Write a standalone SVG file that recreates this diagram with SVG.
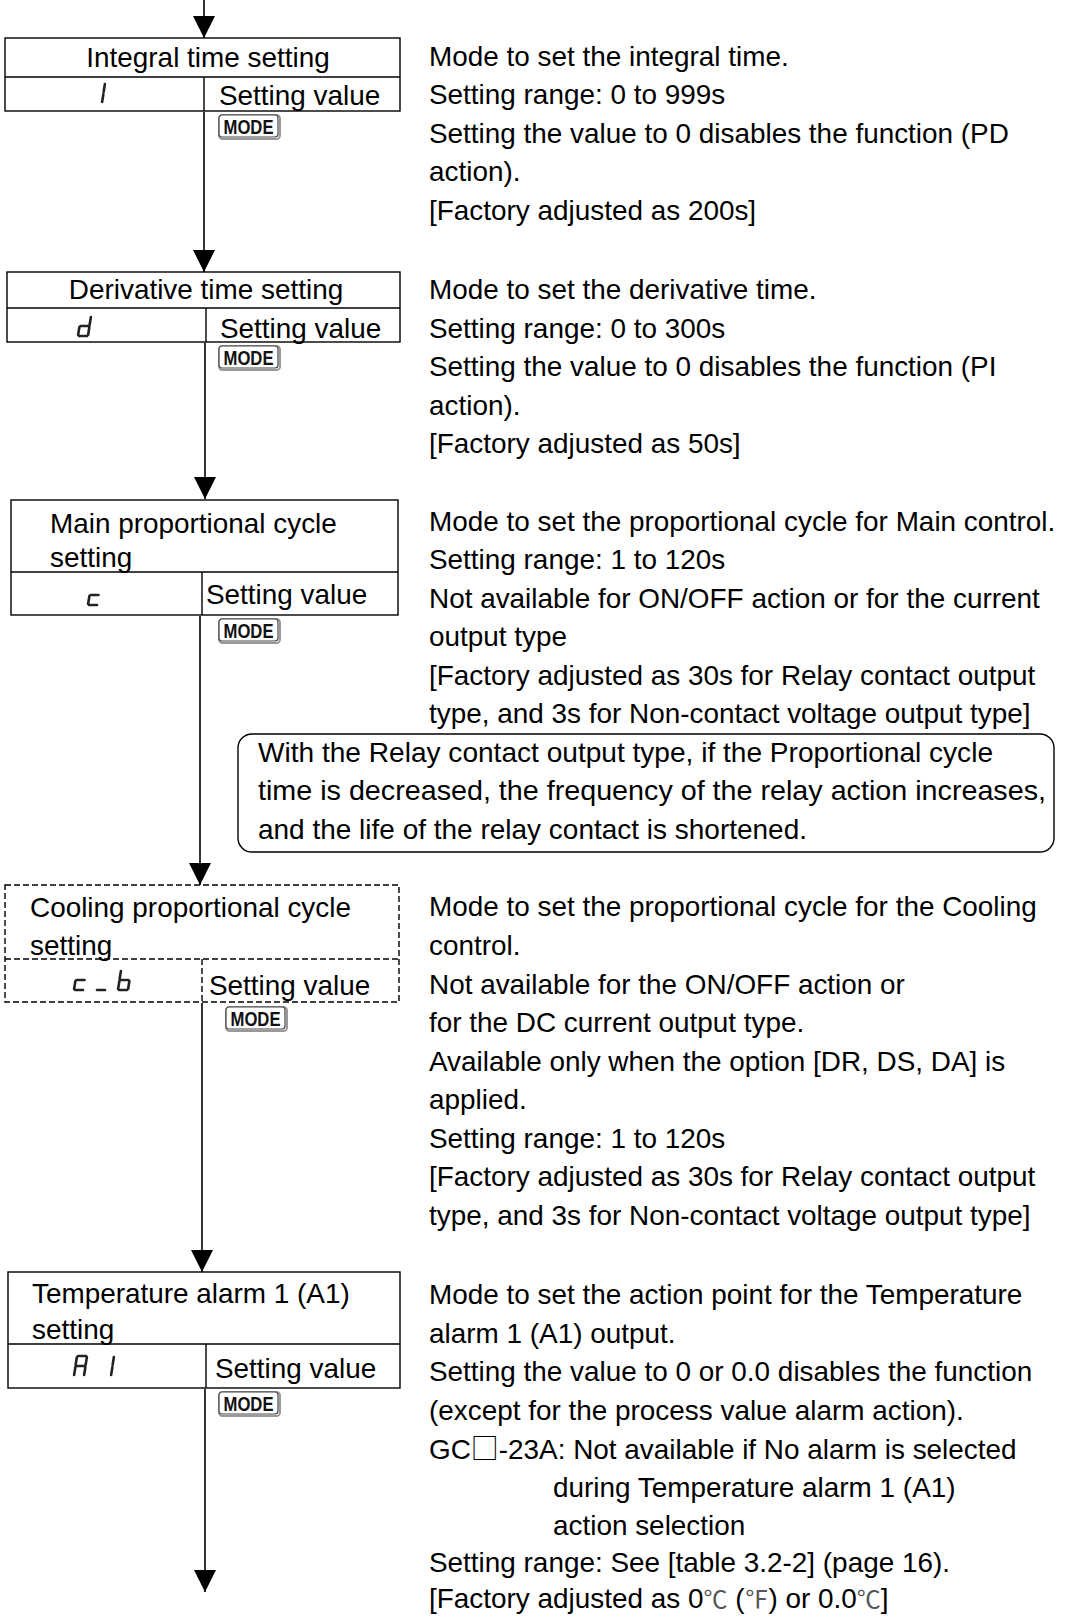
<svg xmlns="http://www.w3.org/2000/svg" xmlns:xlink="http://www.w3.org/1999/xlink" width="1068" height="1616" viewBox="0 0 1068 1616">
<style>
  text { font-family: "Liberation Sans", Arial, "Noto Sans CJK JP", sans-serif; font-size: 27.9px; fill: #000; }
  .box { fill: #fff; stroke: #000; stroke-width: 1.4; }
  .div { stroke: #000; stroke-width: 1.4; fill: none; }
  .dash { fill: #fff; stroke: #000; stroke-width: 1.4; stroke-dasharray: 6 3; }
  .dashl { fill: none; stroke: #000; stroke-width: 1.4; stroke-dasharray: 6 3; }
  .conn { stroke: #000; stroke-width: 1.6; fill: none; marker-end: url(#arr); }
  .seg { stroke: #222; stroke-width: 2.6; fill: none; stroke-linecap: round; }
  .mode { font-family: "Liberation Sans Narrow", "Liberation Sans", Arial, sans-serif; font-weight: bold; font-size: 21px; fill: #111; }
  .note { fill: #fff; stroke: #000; stroke-width: 1.4; }
  .ctr { text-anchor: middle; }
  .cjk { font-family: "Noto Sans CJK JP", sans-serif; fill: #555; font-size: 24px; }
  .sq { font-family: "Noto Sans CJK JP", sans-serif; }
</style>
<defs>
  <marker id="arr" markerUnits="userSpaceOnUse" markerWidth="22" markerHeight="22" viewBox="0 0 20 20" refX="20" refY="10" orient="auto">
    <path d="M0,0 L20,10 L0,20 Z" fill="#000"/>
  </marker>
  <g id="modekey">
    <rect x="1" y="1" width="61" height="24" rx="3.5" fill="#fff" stroke="#999" stroke-width="2"/>
    <rect x="1" y="1" width="59" height="22" rx="3" fill="#fff" stroke="#444" stroke-width="1.2"/>
    <text class="mode" x="30.5" y="20" text-anchor="middle" textLength="50" lengthAdjust="spacingAndGlyphs">MODE</text>
  </g>
</defs>

<g id="connectors">
  <line class="conn" x1="204" y1="0" x2="204" y2="38"/>
  <line class="conn" x1="204" y1="112" x2="204" y2="272"/>
  <line class="conn" x1="205" y1="343" x2="205" y2="499"/>
  <line class="conn" x1="200" y1="616" x2="200" y2="885"/>
  <line class="conn" x1="202" y1="1003" x2="202" y2="1272"/>
  <line class="conn" x1="205" y1="1389" x2="205" y2="1592"/>
</g>

<g id="node-integral">
  <rect class="box" x="5" y="38" width="395" height="73"/>
  <line class="div" x1="5" y1="77" x2="400" y2="77"/>
  <line class="div" x1="204" y1="77" x2="204" y2="111"/>
  <text class="ctr" x="208" y="67">Integral time setting</text>
  <g class="seg" transform="translate(92,83)"><path d="M12.9,1 L11.6,9 M11.4,11 L10.1,19"/></g>
  <text x="219" y="105">Setting value</text>
  <use xlink:href="#modekey" href="#modekey" x="218" y="114"/>
</g>
<g id="desc-integral">
  <text x="429" y="66">Mode to set the integral time.</text>
  <text x="429" y="104">Setting range: 0 to 999s</text>
  <text x="429" y="143">Setting the value to 0 disables the function (PD</text>
  <text x="429" y="181">action).</text>
  <text x="429" y="220">[Factory adjusted as 200s]</text>
</g>

<g id="node-derivative">
  <rect class="box" x="7" y="272" width="393" height="70"/>
  <line class="div" x1="7" y1="308" x2="400" y2="308"/>
  <line class="div" x1="206" y1="308" x2="206" y2="342"/>
  <text class="ctr" x="206" y="299">Derivative time setting</text>
  <g class="seg" transform="translate(78,316)"><path d="M12.9,1 L11.6,9 M11.4,11 L10.1,19 M1,20 L9,20 M1.4,11 L0.1,19 M2.5,10 L10.5,10"/></g>
  <text x="220" y="338">Setting value</text>
  <use xlink:href="#modekey" href="#modekey" x="218" y="345"/>
</g>
<g id="desc-derivative">
  <text x="429" y="299">Mode to set the derivative time.</text>
  <text x="429" y="338">Setting range: 0 to 300s</text>
  <text x="429" y="376">Setting the value to 0 disables the function (PI</text>
  <text x="429" y="415">action).</text>
  <text x="429" y="453">[Factory adjusted as 50s]</text>
</g>

<g id="node-main-cycle">
  <rect class="box" x="11" y="500" width="387" height="115"/>
  <line class="div" x1="11" y1="572" x2="398" y2="572"/>
  <line class="div" x1="202" y1="572" x2="202" y2="615"/>
  <text x="50" y="533">Main proportional cycle</text>
  <text x="50" y="567">setting</text>
  <g class="seg" transform="translate(88,585)"><path d="M2.5,10 L10.5,10 M1.4,11 L0.1,19 M1,20 L9,20"/></g>
  <text x="206" y="604">Setting value</text>
  <use xlink:href="#modekey" href="#modekey" x="218" y="618"/>
</g>
<g id="desc-main-cycle">
  <text x="429" y="531">Mode to set the proportional cycle for Main control.</text>
  <text x="429" y="569">Setting range: 1 to 120s</text>
  <text x="429" y="608">Not available for ON/OFF action or for the current</text>
  <text x="429" y="646">output type</text>
  <text x="429" y="685">[Factory adjusted as 30s for Relay contact output</text>
  <text x="429" y="723">type, and 3s for Non-contact voltage output type]</text>
</g>

<g id="note">
  <rect class="note" x="238" y="734" width="816" height="118" rx="14"/>
  <text x="258" y="762" textLength="735" lengthAdjust="spacingAndGlyphs">With the Relay contact output type, if the Proportional cycle</text>
  <text x="258" y="800" textLength="788" lengthAdjust="spacingAndGlyphs">time is decreased, the frequency of the relay action increases,</text>
  <text x="258" y="839" textLength="549" lengthAdjust="spacingAndGlyphs">and the life of the relay contact is shortened.</text>
</g>

<g id="node-cooling-cycle">
  <rect class="dash" x="5" y="885" width="394" height="117"/>
  <line class="dashl" x1="5" y1="959" x2="399" y2="959"/>
  <line class="dashl" x1="202" y1="959" x2="202" y2="1002"/>
  <text x="30" y="917">Cooling proportional cycle</text>
  <text x="30" y="955">setting</text>
  <g class="seg" transform="translate(74,970)"><path d="M2.5,10 L10.5,10 M1.4,11 L0.1,19 M1,20 L9,20"/></g>
  <g class="seg" transform="translate(96,970)"><path d="M1,20 L9,20"/></g>
  <g class="seg" transform="translate(118,970)"><path d="M2.9,1 L1.6,9 M1.4,11 L0.1,19 M2.5,10 L10.5,10 M11.4,11 L10.1,19 M1,20 L9,20"/></g>
  <text x="209" y="995">Setting value</text>
  <use xlink:href="#modekey" href="#modekey" x="225" y="1006"/>
</g>
<g id="desc-cooling-cycle">
  <text x="429" y="916">Mode to set the proportional cycle for the Cooling</text>
  <text x="429" y="955">control.</text>
  <text x="429" y="994">Not available for the ON/OFF action or</text>
  <text x="429" y="1032">for the DC current output type.</text>
  <text x="429" y="1071">Available only when the option [DR, DS, DA] is</text>
  <text x="429" y="1109">applied.</text>
  <text x="429" y="1148">Setting range: 1 to 120s</text>
  <text x="429" y="1186">[Factory adjusted as 30s for Relay contact output</text>
  <text x="429" y="1225">type, and 3s for Non-contact voltage output type]</text>
</g>

<g id="node-alarm1">
  <rect class="box" x="8" y="1272" width="392" height="116"/>
  <line class="div" x1="8" y1="1344" x2="400" y2="1344"/>
  <line class="div" x1="206" y1="1344" x2="206" y2="1388"/>
  <text x="32" y="1303">Temperature alarm 1 (A1)</text>
  <text x="32" y="1339">setting</text>
  <g class="seg" transform="translate(74,1356)"><path d="M4,0 L12,0 M12.9,1 L11.6,9 M11.4,11 L10.1,19 M1.4,11 L0.1,19 M2.9,1 L1.6,9 M2.5,10 L10.5,10"/></g>
  <g class="seg" transform="translate(101,1356)"><path d="M12.9,1 L11.6,9 M11.4,11 L10.1,19"/></g>
  <text x="215" y="1378">Setting value</text>
  <use xlink:href="#modekey" href="#modekey" x="218" y="1391"/>
</g>
<g id="desc-alarm1">
  <text x="429" y="1304">Mode to set the action point for the Temperature</text>
  <text x="429" y="1343">alarm 1 (A1) output.</text>
  <text x="429" y="1381">Setting the value to 0 or 0.0 disables the function</text>
  <text x="429" y="1420">(except for the process value alarm action).</text>
  <text x="429" y="1459">GC<tspan class="sq">□</tspan>-23A: Not available if No alarm is selected</text>
  <text x="553" y="1497">during Temperature alarm 1 (A1)</text>
  <text x="553" y="1535">action selection</text>
  <text x="429" y="1572">Setting range: See [table 3.2-2] (page 16).</text>
  <text x="429" y="1608">[Factory adjusted as 0<tspan class="cjk">℃</tspan> (<tspan class="cjk">℉</tspan>) or 0.0<tspan class="cjk">℃</tspan>]</text>
</g>
</svg>
